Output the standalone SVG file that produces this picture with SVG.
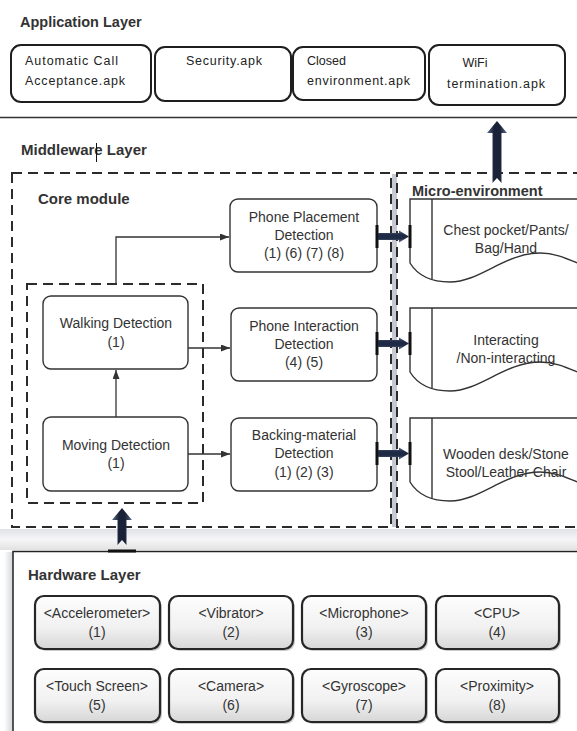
<svg xmlns="http://www.w3.org/2000/svg" width="577" height="731" viewBox="0 0 577 731">
<style>
  text { font-family: "Liberation Sans", Arial, sans-serif; fill: #333; }
  .title { font-weight: bold; font-size: 15px; }
  .app { fill: #fff; stroke: #1e1e1e; stroke-width: 2; }
  .apptxt { font-size: 12.5px; fill: #222; }
  .node { fill: #fff; stroke: #333; stroke-width: 1.4; }
  .lbl { font-size: 14px; text-anchor: middle; }
  .dash { fill: none; stroke: #2b2b2b; stroke-width: 2; stroke-dasharray: 10 6; }
  .doc { fill: #fff; stroke: #333; stroke-width: 1.4; }
  .docline { fill: none; stroke: #333; stroke-width: 1.4; }
  .hw { fill: url(#hwFill); stroke: #262626; stroke-width: 2.2; }
  .hwsh { fill: #8c8c8c; opacity: 0.45; }
  .wire { fill: none; stroke: #333; stroke-width: 1.3; marker-end: url(#tip); }
  .bar { fill: #111; }
  .thickH { fill: url(#navyV); }
  .thickV { fill: url(#navyH); }
</style>
<defs>
  <marker id="tip" markerUnits="userSpaceOnUse" markerWidth="10" markerHeight="8" refX="9" refY="3.5" orient="auto">
    <path d="M0,0 L9,3.5 L0,7 Z" fill="#333"/>
  </marker>
  <linearGradient id="hwFill" x1="0" y1="0" x2="0" y2="1">
    <stop offset="0" stop-color="#fdfdfd"/>
    <stop offset="0.6" stop-color="#f1f1f1"/>
    <stop offset="1" stop-color="#d6d6d6"/>
  </linearGradient>
  <!-- thick arrow shading: dark core, bluish edges -->
  <linearGradient id="navyH" x1="0" y1="0" x2="1" y2="0">
    <stop offset="0" stop-color="#5a6a8c"/>
    <stop offset="0.35" stop-color="#1a2238"/>
    <stop offset="0.65" stop-color="#1a2238"/>
    <stop offset="1" stop-color="#5a6a8c"/>
  </linearGradient>
  <linearGradient id="navyV" x1="0" y1="0" x2="0" y2="1">
    <stop offset="0" stop-color="#5a6a8c"/>
    <stop offset="0.35" stop-color="#1f2a44"/>
    <stop offset="0.65" stop-color="#1f2a44"/>
    <stop offset="1" stop-color="#5a6a8c"/>
  </linearGradient>
  <linearGradient id="gapBand" x1="0" y1="0" x2="0" y2="1">
    <stop offset="0" stop-color="#dfe2e7"/>
    <stop offset="0.5" stop-color="#f6f6f7"/>
    <stop offset="1" stop-color="#e2e2e2"/>
  </linearGradient>
  <linearGradient id="leftShade" x1="0" y1="0" x2="1" y2="0">
    <stop offset="0" stop-color="#ffffff"/>
    <stop offset="1" stop-color="#d4d6da"/>
  </linearGradient>
</defs>

<rect width="577" height="731" fill="#fff"/>

<!-- ===== Application layer ===== -->
<text class="title" x="20" y="27" style="font-size:14.5px">Application Layer</text>

<g id="app-call">
  <rect class="app" x="11" y="45" width="140" height="57" rx="10"/>
  <text class="apptxt" x="25" y="65" textLength="93" lengthAdjust="spacing">Automatic Call</text>
  <text class="apptxt" x="25" y="85" textLength="100" lengthAdjust="spacing">Acceptance.apk</text>
</g>
<g id="app-security">
  <rect class="app" x="155" y="47" width="136" height="54" rx="10"/>
  <text class="apptxt" x="186" y="65" textLength="76" lengthAdjust="spacing">Security.apk</text>
</g>
<g id="app-closed">
  <rect class="app" x="293" y="47" width="132" height="53" rx="10"/>
  <text class="apptxt" x="307" y="65">Closed</text>
  <text class="apptxt" x="307" y="85" textLength="103" lengthAdjust="spacing">environment.apk</text>
</g>
<g id="app-wifi">
  <rect class="app" x="429" y="45" width="136" height="60" rx="10"/>
  <text class="apptxt" x="475" y="67" text-anchor="middle">WiFi</text>
  <text class="apptxt" x="447" y="88" textLength="98" lengthAdjust="spacing">termination.apk</text>
</g>

<line x1="0" y1="117.5" x2="577" y2="117.5" stroke="#333" stroke-width="1.5"/>

<!-- ===== Middleware layer ===== -->
<text class="title" x="21" y="155">Middleware Layer</text>
<line x1="96.5" y1="143" x2="96.5" y2="162" stroke="#111" stroke-width="1"/>

<g id="middleware-frames">
  <rect x="392" y="174" width="5" height="353" fill="#c5c9d1"/>
  <rect x="0" y="529" width="577" height="21" fill="url(#gapBand)"/>
  <rect class="dash" x="12" y="173" width="379" height="354"/>
  <rect class="dash" x="397" y="173" width="200" height="354"/>
  <rect class="dash" x="27" y="284" width="176" height="219"/>
  <text class="title" x="38" y="204">Core module</text>
  <text class="title" x="412" y="196" style="font-size:14.5px">Micro-environment</text>
</g>

<!-- core detection nodes -->
<g id="walking">
  <rect class="node" x="43" y="296" width="145" height="73" rx="8"/>
  <text class="lbl" x="116" y="328">Walking Detection</text>
  <text class="lbl" x="116" y="347">(1)</text>
</g>
<g id="moving">
  <rect class="node" x="43" y="417" width="145" height="74" rx="8"/>
  <text class="lbl" x="116" y="450">Moving Detection</text>
  <text class="lbl" x="116" y="468">(1)</text>
</g>
<g id="placement">
  <rect class="node" x="230" y="199" width="147" height="73" rx="8"/>
  <text class="lbl" x="304" y="222">Phone Placement</text>
  <text class="lbl" x="304" y="240">Detection</text>
  <text class="lbl" x="304" y="258">(1) (6) (7) (8)</text>
</g>
<g id="interaction">
  <rect class="node" x="231" y="308" width="146" height="73" rx="8"/>
  <text class="lbl" x="304" y="331">Phone Interaction</text>
  <text class="lbl" x="304" y="349">Detection</text>
  <text class="lbl" x="304" y="367">(4) (5)</text>
</g>
<g id="backing">
  <rect class="node" x="231" y="418" width="146" height="73" rx="8"/>
  <text class="lbl" x="304" y="440">Backing-material</text>
  <text class="lbl" x="304" y="458">Detection</text>
  <text class="lbl" x="304" y="477">(1) (2) (3)</text>
</g>

<!-- micro-environment documents -->
<g id="env-placement">
  <path class="doc" d="M410,199 H600 V272 C572,262 560,253 540,253 C505,253 480,282 450,282 C432,282 418,276 410,263 Z"/>
  <path class="docline" d="M432,199 V279"/>
  <text class="lbl" x="506" y="235">Chest pocket/Pants/</text>
  <text class="lbl" x="506" y="253">Bag/Hand</text>
</g>
<g id="env-interaction">
  <path class="doc" d="M410,308 H600 V381 C572,371 560,362 540,362 C505,362 480,391 450,391 C432,391 418,385 410,372 Z"/>
  <path class="docline" d="M432,308 V388"/>
  <text class="lbl" x="506" y="345">Interacting</text>
  <text class="lbl" x="506" y="363">/Non-interacting</text>
</g>
<g id="env-backing">
  <path class="doc" d="M410,418 H600 V491 C572,481 560,472 540,472 C505,472 480,501 450,501 C432,501 418,495 410,482 Z"/>
  <path class="docline" d="M432,418 V498"/>
  <text class="lbl" x="506" y="459">Wooden desk/Stone</text>
  <text class="lbl" x="506" y="477">Stool/Leather Chair</text>
</g>

<!-- ===== Hardware layer ===== -->
<g id="hardware-frame">
  <rect x="4" y="552" width="9" height="179" fill="url(#leftShade)"/>
  <rect x="13" y="551.5" width="600" height="200" fill="#fff" stroke="#222" stroke-width="1.5"/>
  <text class="title" x="28" y="580">Hardware Layer</text>
</g>

<g id="hw-accelerometer">
  <rect class="hwsh" x="37" y="598" width="125" height="53" rx="9"/>
  <rect class="hw" x="35" y="596" width="125" height="53" rx="9"/>
  <text class="lbl" x="97" y="618">&lt;Accelerometer&gt;</text>
  <text class="lbl" x="97" y="637">(1)</text>
</g>
<g id="hw-vibrator">
  <rect class="hwsh" x="171" y="598" width="124" height="53" rx="9"/>
  <rect class="hw" x="169" y="596" width="124" height="53" rx="9"/>
  <text class="lbl" x="231" y="618">&lt;Vibrator&gt;</text>
  <text class="lbl" x="231" y="637">(2)</text>
</g>
<g id="hw-microphone">
  <rect class="hwsh" x="304" y="598" width="124" height="53" rx="9"/>
  <rect class="hw" x="302" y="596" width="124" height="53" rx="9"/>
  <text class="lbl" x="364" y="618">&lt;Microphone&gt;</text>
  <text class="lbl" x="364" y="637">(3)</text>
</g>
<g id="hw-cpu">
  <rect class="hwsh" x="438" y="598" width="123" height="53" rx="9"/>
  <rect class="hw" x="436" y="596" width="123" height="53" rx="9"/>
  <text class="lbl" x="497" y="618">&lt;CPU&gt;</text>
  <text class="lbl" x="497" y="637">(4)</text>
</g>
<g id="hw-touch">
  <rect class="hwsh" x="37" y="671" width="125" height="53" rx="9"/>
  <rect class="hw" x="35" y="669" width="125" height="53" rx="9"/>
  <text class="lbl" x="97" y="691">&lt;Touch Screen&gt;</text>
  <text class="lbl" x="97" y="710">(5)</text>
</g>
<g id="hw-camera">
  <rect class="hwsh" x="171" y="671" width="124" height="53" rx="9"/>
  <rect class="hw" x="169" y="669" width="124" height="53" rx="9"/>
  <text class="lbl" x="231" y="691">&lt;Camera&gt;</text>
  <text class="lbl" x="231" y="710">(6)</text>
</g>
<g id="hw-gyroscope">
  <rect class="hwsh" x="304" y="671" width="124" height="53" rx="9"/>
  <rect class="hw" x="302" y="669" width="124" height="53" rx="9"/>
  <text class="lbl" x="364" y="691">&lt;Gyroscope&gt;</text>
  <text class="lbl" x="364" y="710">(7)</text>
</g>
<g id="hw-proximity">
  <rect class="hwsh" x="438" y="671" width="123" height="53" rx="9"/>
  <rect class="hw" x="436" y="669" width="123" height="53" rx="9"/>
  <text class="lbl" x="497" y="691">&lt;Proximity&gt;</text>
  <text class="lbl" x="497" y="710">(8)</text>
</g>

<!-- ===== Connectors ===== -->
<g id="connectors">
  <path class="wire" d="M116,284 V237 H229"/>
  <path class="wire" d="M116,417 V370"/>
  <path class="wire" d="M188,348 H230"/>
  <path class="wire" d="M188,454 H230"/>

  <!-- detection result -> micro-environment -->
  <rect class="bar" x="375.5" y="225" width="3" height="23"/>
  <polygon class="thickH" points="378,233 399,233 399,230.5 409,236.5 399,242.5 399,240 378,240"/>
  <rect class="bar" x="408.5" y="225" width="3" height="23"/>

  <rect class="bar" x="375.5" y="332" width="3" height="23"/>
  <polygon class="thickH" points="378,340 399,340 399,337.5 409,343.5 399,349.5 399,347 378,347"/>
  <rect class="bar" x="408.5" y="332" width="3" height="23"/>

  <rect class="bar" x="375.5" y="442" width="3" height="23"/>
  <polygon class="thickH" points="378,450 399,450 399,447.5 409,453.5 399,459.5 399,457 378,457"/>
  <rect class="bar" x="408.5" y="442" width="3" height="23"/>

  <!-- middleware -> application -->
  <polygon class="thickV" points="497,121 507,133 501.5,133 501.5,183 497,178 492.5,183 492.5,133 487,133"/>
  <!-- hardware -> middleware -->
  <polygon class="thickV" points="122,508 132,520 126.5,520 126.5,545 122,540 117.5,545 117.5,520 112,520"/>
  <rect class="bar" x="108" y="549.5" width="28" height="3"/>
</g>
</svg>
